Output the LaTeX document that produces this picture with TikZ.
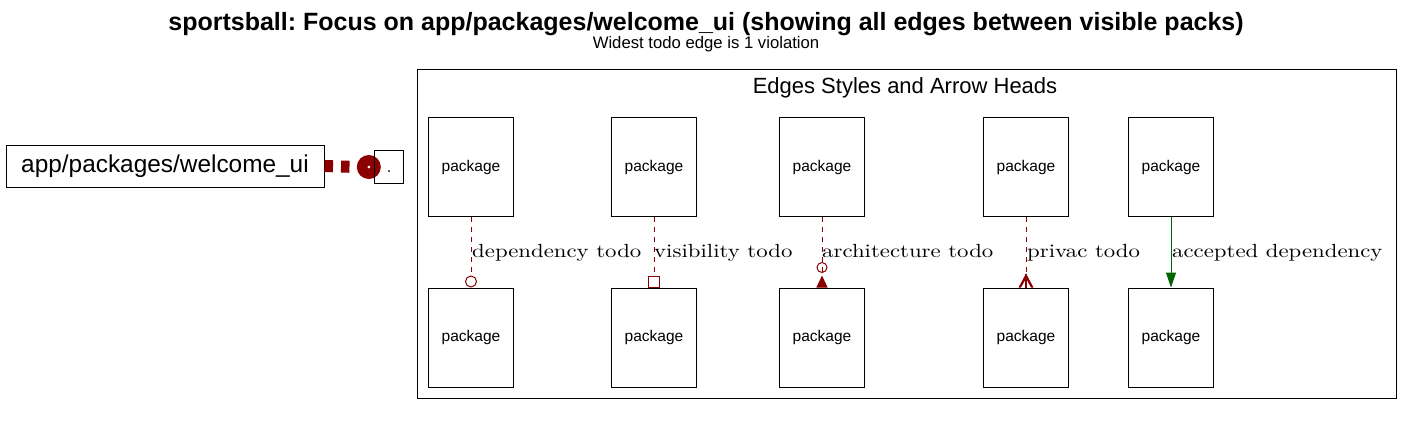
\documentclass[tikz,border=0pt]{standalone}
\usepackage{fontspec}
\setmainfont{Liberation Sans}
\newfontfamily\edgefont{lmroman10-regular.otf}[FakeStretch=1.2]
\usetikzlibrary{arrows.meta,calc}
\definecolor{dred}{HTML}{8B0000}
\definecolor{dgreen}{HTML}{006400}
\frenchspacing
\begin{document}
\begin{tikzpicture}[x=1pt,y=-1pt,
  pkg/.style={draw,line width=1pt,minimum width=85pt,minimum height=99pt,inner sep=0pt,font=\fontsize{15.5}{18}\selectfont},
  todo/.style={dred,line width=1pt,dash pattern=on 5pt off 5pt},
  elbl/.style={anchor=base west,inner sep=0pt,text=black,font=\edgefont\fontsize{19}{21}\selectfont},
  bigedge/.style={dred,line width=12pt,dash pattern=on 8.5pt off 8pt}]
\useasboundingbox (0,0) rectangle (1413,444);
% titles
\node[anchor=base,inner sep=0pt,font=\bfseries\fontsize{25}{28}\selectfont] (title) at (706,31) {sportsball: Focus on app/packages/welcome\_ui (showing all edges between visible packs)};
\node[anchor=base,inner sep=0pt,font=\fontsize{16.7}{18}\selectfont] (sub) at (706,48.3) {Widest todo edge is 1 violation};
% cluster
\draw[line width=1pt] (417,69.3) rectangle (1396,398);
\node[anchor=base,inner sep=0pt,font=\fontsize{22}{24}\selectfont] (ctitle) at (905,93.3) {Edges Styles and Arrow Heads};
% left nodes
\node[draw,line width=1pt,minimum width=318pt,minimum height=42pt,inner sep=0pt,font=\fontsize{24.4}{26}\selectfont] (wl) at (165,166) {app/packages/welcome\_ui};
\node[minimum width=28pt,minimum height=32pt,inner sep=0pt,text height=13pt,text depth=3pt,font=\fontsize{16}{18}\selectfont] (dotn) at (389,167) {.};
\draw[bigedge] (wl.east) -- ($(dotn.west)+(-18,0)$);
\fill[dred] ($(dotn.west)+(-6,0)$) circle[radius=12];
\fill[white] ($(dotn.west)+(-6,0)$) circle[radius=1.5];
\draw[line width=1pt] (dotn.south west) rectangle (dotn.north east);
% package nodes
\foreach \i/\x in {1/471,2/654,3/822,4/1026,5/1171}{
  \node[pkg] (p\i t) at (\x,167) {package};
  \node[pkg] (p\i b) at (\x,337.5) {package};
}
% edges
\draw[todo,-{Circle[open,length=12pt,width=12pt]}] (p1t) -- (p1b);
\draw[todo,-{Square[open,length=12pt,width=12pt]}] (p2t) -- (p2b);
\draw[todo,-{Circle[open,length=11pt,width=11pt,sep=2.5pt]Triangle[reversed,length=12pt,width=11pt]}] (p3t) -- (p3b);
\draw[todo] (p4t) -- ($(p4b.north)+(0,-12)$);
\coordinate (crowbase) at (p4b.north);
\fill[dred] ($(crowbase)+(0,-14)$) -- ($(crowbase)+(-7.5,0)$) -- ($(crowbase)+(-5,0)$) -- ($(crowbase)+(0,-9)$) -- cycle;
\fill[dred] ($(crowbase)+(0,-14)$) -- ($(crowbase)+(7.5,0)$) -- ($(crowbase)+(5,0)$) -- ($(crowbase)+(0,-9)$) -- cycle;
\fill[dred] ($(crowbase)+(-0.8,-14)$) rectangle ($(crowbase)+(0.8,0)$);
\draw[dgreen,line width=1pt,-{Triangle[length=15pt,width=10pt]}] (p5t) -- (p5b);
% labels
\node[elbl] (l1) at ($(p1t.south)+(1,40.5)$) {dependency todo};
\node[elbl] (l2) at ($(p2t.south)+(0,40.5)$) {visibility todo};
\node[elbl] (l3) at ($(p3t.south)+(0,40.5)$) {architecture todo};
\node[elbl] (l4) at ($(p4t.south)+(1,40.5)$) {privac todo};
\node[elbl] (l5) at ($(p5t.south)+(1,40.5)$) {accepted dependency};
\end{tikzpicture}
\end{document}
